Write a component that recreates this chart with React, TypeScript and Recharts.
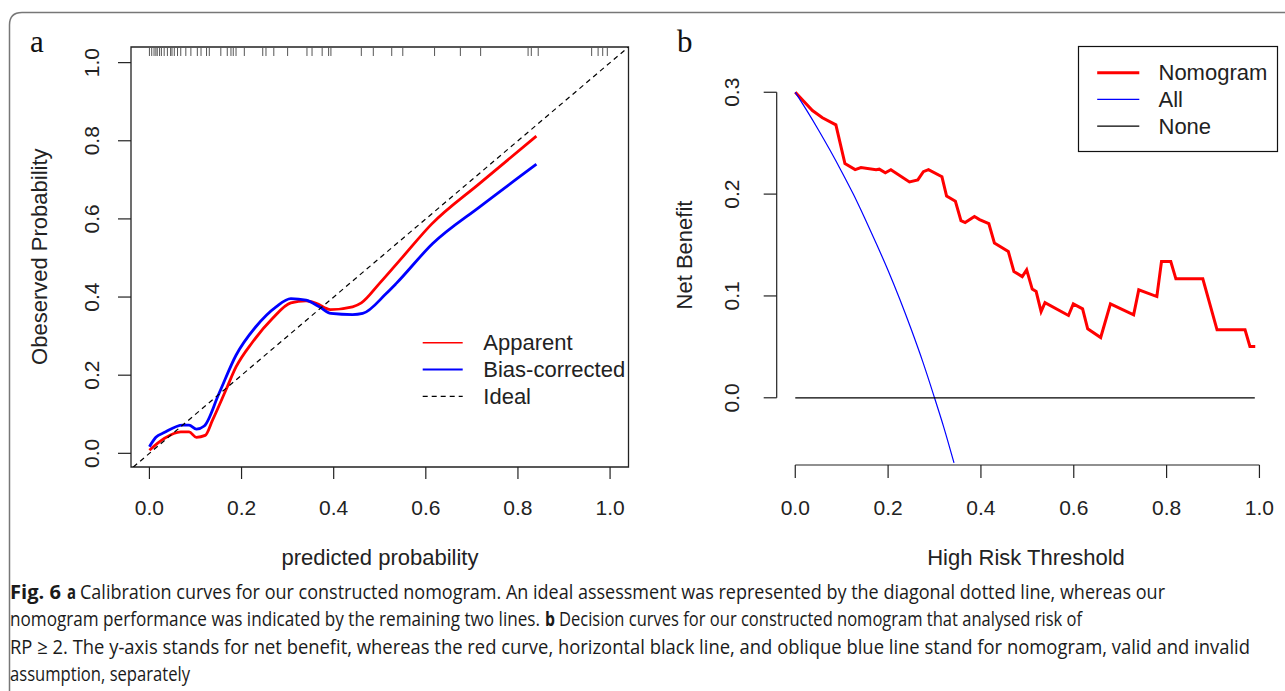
import React from 'react';
import { LineChart, Line, XAxis, YAxis, ReferenceArea, ReferenceLine, Legend } from 'recharts';

// panel a: calibration curves  [predicted, observed]
const apparent = [
  [0.0, 0.008], [0.032, 0.038], [0.068, 0.055], [0.086, 0.055], [0.102, 0.041],
  [0.121, 0.046], [0.137, 0.085], [0.166, 0.162], [0.188, 0.221], [0.224, 0.285],
  [0.267, 0.345], [0.307, 0.385], [0.34, 0.39], [0.362, 0.384], [0.393, 0.368],
  [0.441, 0.375], [0.46, 0.385], [0.4995, 0.435], [0.55, 0.503], [0.612, 0.586],
  [0.717, 0.691], [0.84, 0.812],
];
const biasCorrected = [
  [0.0, 0.017], [0.014, 0.041], [0.032, 0.053], [0.072, 0.072], [0.086, 0.072],
  [0.102, 0.062], [0.119, 0.07], [0.151, 0.153], [0.188, 0.251], [0.231, 0.324],
  [0.275, 0.375], [0.307, 0.396], [0.34, 0.392], [0.369, 0.375], [0.394, 0.358],
  [0.441, 0.355], [0.463, 0.358], [0.514, 0.409], [0.536, 0.435], [0.615, 0.537],
  [0.717, 0.631], [0.84, 0.74],
];
const ideal = [[-0.035, -0.035], [1.04, 1.04]];
// rug of predicted probabilities along the top
const rug = [
  0.0, 0.005, 0.01, 0.014, 0.017, 0.022, 0.026, 0.032, 0.039, 0.046, 0.049, 0.054,
  0.061, 0.068, 0.079, 0.09, 0.104, 0.112, 0.124, 0.13, 0.155, 0.169, 0.177, 0.182,
  0.188, 0.206, 0.246, 0.253, 0.27, 0.3, 0.342, 0.353, 0.375, 0.389, 0.394, 0.46,
  0.486, 0.526, 0.55, 0.619, 0.675, 0.719, 0.822, 0.829, 0.844, 0.96, 0.974, 0.984, 0.994,
];

// panel b: decision curves  [threshold, net benefit]
const nomogram = [
  [0, 0.3], [0.037, 0.282], [0.0585, 0.275], [0.0875, 0.268], [0.107, 0.23],
  [0.129, 0.224], [0.1415, 0.226], [0.174, 0.224], [0.181, 0.2245], [0.194, 0.221],
  [0.206, 0.224], [0.246, 0.212], [0.264, 0.214], [0.276, 0.222], [0.287, 0.224],
  [0.316, 0.217], [0.326, 0.198], [0.345, 0.193], [0.357, 0.174], [0.366, 0.172],
  [0.386, 0.178], [0.397, 0.175], [0.417, 0.171], [0.429, 0.152], [0.459, 0.1436],
  [0.471, 0.124], [0.489, 0.119], [0.4985, 0.1256], [0.5105, 0.1067], [0.519, 0.1043],
  [0.5296, 0.0847], [0.538, 0.0935], [0.5886, 0.0808], [0.599, 0.0922], [0.619, 0.0873],
  [0.63, 0.0677], [0.658, 0.0592], [0.679, 0.0922], [0.729, 0.0815], [0.74, 0.106],
  [0.779, 0.0994], [0.789, 0.1338], [0.809, 0.1338], [0.82, 0.1168], [0.878, 0.1168],
  [0.9087, 0.0667], [0.969, 0.0667], [0.9795, 0.0504], [0.991, 0.0504],
];
const treatAll = [
  [0, 0.3], [0.025, 0.282], [0.05, 0.263], [0.075, 0.243], [0.1, 0.222], [0.125, 0.2],
  [0.15, 0.176], [0.175, 0.151], [0.2, 0.125], [0.225, 0.097], [0.25, 0.067],
  [0.275, 0.035], [0.3, 0.0], [0.32, -0.029], [0.342, -0.064],
];
const treatNone = [[0, 0], [0.99, 0]];

const xTicks = [0, 0.2, 0.4, 0.6, 0.8, 1.0];
const yTicksA = [0, 0.2, 0.4, 0.6, 0.8, 1.0];
const yTicksB = [0, 0.1, 0.2, 0.3];

const RED = '#ff0000';
const BLUE = '#0000ff';
const INK = '#222';
const SANS = "'Liberation Sans', Arial, Helvetica, sans-serif";

const toXY = (arr: number[][]) => arr.map(([x, y]) => ({ x, y }));

const XTick = (p: any) => (
  <text x={p.x} y={515} textAnchor="middle" fontSize={21} fontFamily={SANS} fill={INK}>
    {Number(p.payload.value).toFixed(1)}
  </text>
);

const YTick = (p: any) => (
  <text
    x={p.cx}
    y={p.y}
    dy="0.36em"
    transform={`rotate(-90 ${p.cx} ${p.y})`}
    textAnchor="middle"
    fontSize={21}
    fontFamily={SANS}
    fill={INK}
  >
    {Number(p.payload.value).toFixed(1)}
  </text>
);

const styleA: Record<string, any> = {
  Apparent: { stroke: RED, w: 1.6 },
  'Bias-corrected': { stroke: BLUE, w: 2 },
  Ideal: { stroke: '#000', w: 1.3, dash: '5 4' },
};
const styleB: Record<string, any> = {
  Nomogram: { stroke: RED, w: 3 },
  All: { stroke: BLUE, w: 1.2 },
  None: { stroke: '#000', w: 1.2 },
};

function LegendBox({ names, styles, width, height, x1, x2, tx, y0, step, boxed }: any) {
  return (
    <svg width={width} height={height} style={{ overflow: 'visible' }}>
      {boxed && <rect x={0.5} y={0.5} width={width - 1} height={height - 1} fill="none" stroke="#111" strokeWidth={1.2} />}
      {names.map((n: string, i: number) => {
        const s = styles[n];
        const y = y0 + i * step;
        return (
          <g key={n}>
            <line x1={x1} x2={x2} y1={y} y2={y} stroke={s.stroke} strokeWidth={s.w} strokeDasharray={s.dash} />
            <text x={tx} y={y + 7.5} fontSize={22} fontFamily={SANS} fill={INK}>{n}</text>
          </g>
        );
      })}
    </svg>
  );
}

function PanelA() {
  return (
    <LineChart width={660} height={560} margin={{ top: 47, right: 31.5, bottom: 0, left: 0 }}>
      <XAxis
        type="number"
        dataKey="x"
        domain={[-0.04, 1.04]}
        ticks={xTicks}
        allowDataOverflow
        axisLine={false}
        tickSize={12}
        tickLine={{ stroke: INK, strokeWidth: 1.2 }}
        height={93}
        tick={(p: any) => <XTick {...p} />}
      />
      <YAxis
        type="number"
        dataKey="y"
        domain={[-0.035, 1.04]}
        ticks={yTicksA}
        allowDataOverflow
        axisLine={false}
        tickSize={13}
        tickLine={{ stroke: INK, strokeWidth: 1.2 }}
        width={131}
        tick={(p: any) => <YTick {...p} cx={91.7} />}
      />
      <ReferenceArea x1={-0.04} x2={1.04} y1={-0.035} y2={1.04} fill="none" stroke={INK} strokeWidth={1.3} />
      {rug.map((r, i) => (
        <ReferenceLine
          key={i}
          segment={[{ x: r, y: 1.04 }, { x: r, y: 1.017 }]}
          stroke="#555"
          strokeWidth={1}
          ifOverflow="visible"
        />
      ))}
      <Line data={toXY(apparent)} dataKey="y" name="Apparent" type="monotone" stroke={RED} strokeWidth={2.8} dot={false} isAnimationActive={false} />
      <Line data={toXY(biasCorrected)} dataKey="y" name="Bias-corrected" type="monotone" stroke={BLUE} strokeWidth={2.8} dot={false} isAnimationActive={false} />
      <Line data={toXY(ideal)} dataKey="y" name="Ideal" type="linear" stroke="#000" strokeWidth={1.2} strokeDasharray="5 4" dot={false} isAnimationActive={false} />
      <Legend
        layout="horizontal"
        align="center"
        verticalAlign="middle"
        wrapperStyle={{ left: 420, top: 325, width: 220, height: 90 }}
        content={() => (
          <LegendBox names={['Apparent', 'Bias-corrected', 'Ideal']} styles={styleA} width={220} height={90}
            x1={2.7} x2={42.7} tx={63.3} y0={17.7} step={26.8} />
        )}
      />
    </LineChart>
  );
}

function PanelB() {
  return (
    <LineChart width={625} height={560} margin={{ top: 78, right: 7, bottom: 0, left: 0 }}>
      <XAxis
        type="number"
        dataKey="x"
        domain={[-0.04, 1.04]}
        ticks={xTicks}
        allowDataOverflow
        axisLine={false}
        tickSize={13}
        tickLine={{ stroke: INK, strokeWidth: 1.2 }}
        height={95}
        tick={(p: any) => <XTick {...p} />}
      />
      <YAxis
        type="number"
        dataKey="y"
        domain={[-0.066, 0.314]}
        ticks={yTicksB}
        allowDataOverflow
        axisLine={false}
        tickSize={13}
        tickLine={{ stroke: INK, strokeWidth: 1.2 }}
        width={116.7}
        tick={(p: any) => <YTick {...p} cx={71.7} />}
      />
      <ReferenceLine segment={[{ x: -0.04, y: 0 }, { x: -0.04, y: 0.3 }]} stroke={INK} strokeWidth={1.2} ifOverflow="visible" />
      <ReferenceLine segment={[{ x: 0, y: -0.066 }, { x: 1, y: -0.066 }]} stroke={INK} strokeWidth={1.2} ifOverflow="visible" />
      <Line data={toXY(nomogram)} dataKey="y" name="Nomogram" type="linear" stroke={RED} strokeWidth={3} dot={false} isAnimationActive={false} />
      <Line data={toXY(treatAll)} dataKey="y" name="All" type="monotone" stroke={BLUE} strokeWidth={1.2} dot={false} isAnimationActive={false} />
      <Line data={toXY(treatNone)} dataKey="y" name="None" type="linear" stroke="#000" strokeWidth={1.3} dot={false} isAnimationActive={false} />
      <Legend
        layout="horizontal"
        align="center"
        verticalAlign="middle"
        wrapperStyle={{ left: 417.5, top: 46, width: 200, height: 106 }}
        content={() => (
          <LegendBox names={['Nomogram', 'All', 'None']} styles={styleB} width={200} height={106} boxed
            x1={19.2} x2={61.3} tx={80.5} y0={26.7} step={26.7} />
        )}
      />
    </LineChart>
  );
}

// one caption run: a condensed look made by scaling the glyphs horizontally,
// then fitted to the width the run has in the figure
const SQUEEZE = 0.8;
const Cap = ({ x, y, w, bold, children }: any) => (
  <text
    x={0}
    y={0}
    transform={`translate(${x} ${y}) scale(${SQUEEZE} 1)`}
    textLength={w / SQUEEZE}
    lengthAdjust="spacingAndGlyphs"
    fontFamily="'Open Sans', sans-serif"
    fontSize={20}
    fontWeight={bold ? 700 : 400}
    fill="#1a1a1a"
  >
    {children}
  </text>
);

export default function App() {
  return (
    <div style={{ position: 'absolute', left: 0, top: 0, width: 1285, height: 691, background: '#fff', overflow: 'hidden' }}>
      <div style={{ position: 'absolute', left: 0, top: 0 }}>
        <PanelA />
      </div>
      <div style={{ position: 'absolute', left: 660, top: 0 }}>
        <PanelB />
      </div>
      <svg width={1285} height={691} style={{ position: 'absolute', left: 0, top: 0, pointerEvents: 'none' }}>
        <path d="M 9.5 691 V 25 Q 9.5 12.5 22 12.5 H 1285" fill="none" stroke="#777" strokeWidth={1.5} />
        <text x={30} y={52} fontFamily="'Liberation Serif', 'DejaVu Serif', serif" fontSize={31} fill="#111">a</text>
        <text x={677} y={52} fontFamily="'Liberation Serif', 'DejaVu Serif', serif" fontSize={31} fill="#111">b</text>

        <text x={47} y={256.7} transform="rotate(-90 47 256.7)" textAnchor="middle" fontSize={22} fontFamily={SANS} fill={INK}>
          Obeserved Probability
        </text>
        <text x={380} y={565} textAnchor="middle" fontSize={22} fontFamily={SANS} fill={INK}>predicted probability</text>
        <text x={692} y={255} transform="rotate(-90 692 255)" textAnchor="middle" fontSize={22} fontFamily={SANS} fill={INK}>
          Net Benefit
        </text>
        <text x={1026} y={565} textAnchor="middle" fontSize={22} fontFamily={SANS} fill={INK}>High Risk Threshold</text>

        <Cap x={10} y={599} w={51} bold>Fig. 6</Cap>
        <Cap x={67} y={599} w={9} bold>a</Cap>
        <Cap x={80} y={599} w={1085}>Calibration curves for our constructed nomogram. An ideal assessment was represented by the diagonal dotted line, whereas our</Cap>
        <Cap x={10} y={626} w={530}>nomogram performance was indicated by the remaining two lines.</Cap>
        <Cap x={545} y={626} w={10} bold>b</Cap>
        <Cap x={559} y={626} w={523}>Decision curves for our constructed nomogram that analysed risk of</Cap>
        <Cap x={10} y={654} w={1240}>RP ≥ 2. The y-axis stands for net benefit, whereas the red curve, horizontal black line, and oblique blue line stand for nomogram, valid and invalid</Cap>
        <Cap x={10} y={681} w={180}>assumption, separately</Cap>
      </svg>
    </div>
  );
}
